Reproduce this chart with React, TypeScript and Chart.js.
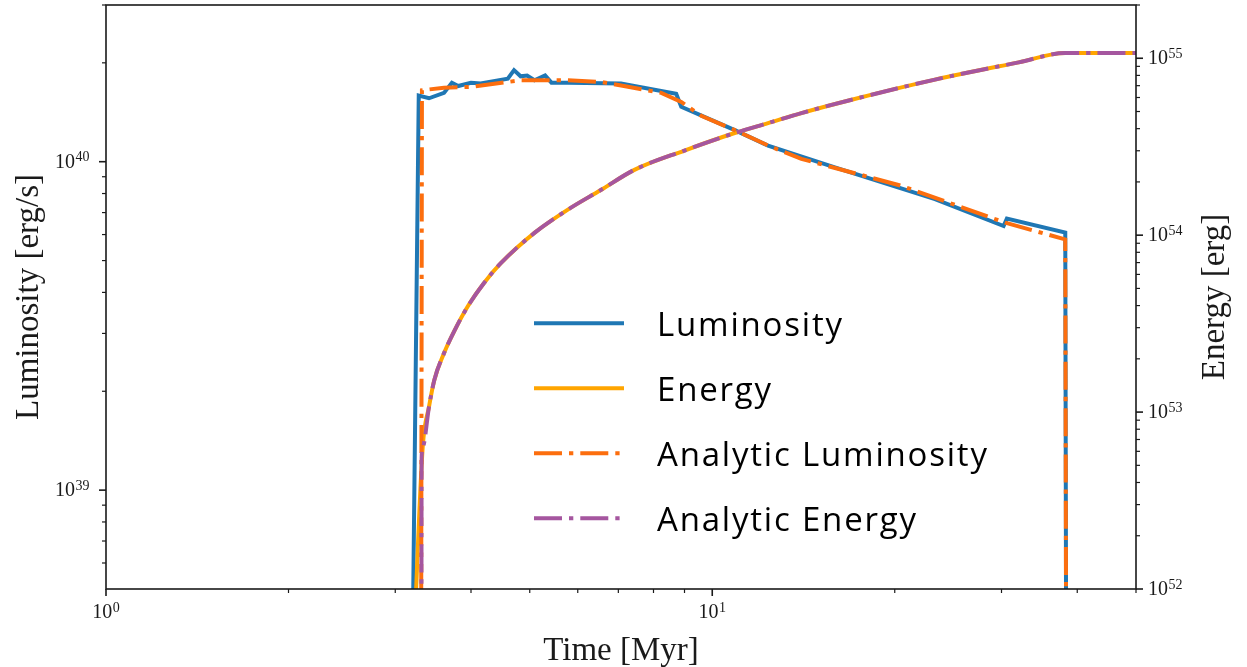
import { useEffect, useRef } from 'react';
import { Chart, registerables } from 'chart.js';

Chart.register(...registerables);

// Simulated luminosity [erg/s] against time [Myr]
const lumTime = [3.212, 3.28, 3.41, 3.61, 3.72, 3.81, 4.0, 4.15, 4.6, 4.71, 4.83, 4.95, 5.09, 5.3, 5.43, 5.78, 7.07, 8.72, 8.89, 10.87, 12.36, 15.93, 23.3, 30.24, 30.62, 38.22, 38.33];
const lumValue = [4.9e38, 1.59e40, 1.56e40, 1.62e40, 1.74e40, 1.7e40, 1.74e40, 1.73e40, 1.79e40, 1.9e40, 1.82e40, 1.83e40, 1.77e40, 1.83e40, 1.74e40, 1.74e40, 1.73e40, 1.61e40, 1.47e40, 1.25e40, 1.12e40, 9.61e39, 7.69e39, 6.37e39, 6.71e39, 6.08e39, 4.9e38];

// Simulated cumulative energy [erg]
const energyTime = [3.22, 3.33, 3.41, 3.48, 3.61, 3.75, 3.95, 4.2, 4.48, 5.09, 5.77, 6.55, 7.44, 9.0, 10.89, 12.36, 14.03, 16.98, 23.3, 32.02, 38.22, 50];
const energyValue = [5e51, 6.36e52, 1.07e53, 1.52e53, 2.15e53, 2.85e53, 3.95e53, 5.35e53, 6.94e53, 1.03e54, 1.39e54, 1.8e54, 2.34e54, 3.01e54, 3.78e54, 4.3e54, 4.9e54, 5.83e54, 7.57e54, 9.48e54, 1.07e55, 1.07e55];

// Analytic luminosity model
const analyticLumTime = [3.311, 3.32, 3.61, 4.0, 4.83, 5.78, 6.55, 7.15, 8.24, 8.89, 9.59, 10.87, 12.36, 14.03, 20.53, 30.42, 38.22, 38.33];
const analyticLumValue = [4.9e38, 1.65e40, 1.68e40, 1.69e40, 1.77e40, 1.77e40, 1.75e40, 1.7e40, 1.62e40, 1.52e40, 1.38e40, 1.25e40, 1.12e40, 1.02e40, 8.44e39, 6.52e39, 5.8e39, 4.9e38];

// Analytic cumulative energy model
const analyticEnergyTime = [3.311, 3.316, 3.33, 3.41, 3.48, 3.61, 3.75, 3.95, 4.2, 4.48, 5.09, 5.77, 6.55, 7.44, 9.0, 10.89, 12.36, 14.03, 16.98, 23.3, 32.02, 38.22, 50];
const analyticEnergyValue = [1e50, 5.5e52, 6.36e52, 1.07e53, 1.52e53, 2.15e53, 2.85e53, 3.95e53, 5.35e53, 6.94e53, 1.03e54, 1.39e54, 1.8e54, 2.34e54, 3.01e54, 3.78e54, 4.3e54, 4.9e54, 5.83e54, 7.57e54, 9.48e54, 1.07e55, 1.07e55];

const seriesLabels = ['Luminosity', 'Energy', 'Analytic Luminosity', 'Analytic Energy'];
const seriesColors = ['#1f77b4', '#ffa500', '#fc6e0e', '#a5569f'];

// Axis ticks (decades get a 10^n label, the rest are unlabelled minor ticks)
const xMajorTicks = [1, 10];
const xMinorTicks = [2, 3, 4, 5, 6, 7, 8, 9, 20, 30, 40, 50];
const lumMajorTicks = [1e39, 1e40];
const lumMinorTicks = [6e38, 7e38, 8e38, 9e38, 2e39, 3e39, 4e39, 5e39, 6e39, 7e39, 8e39, 9e39, 2e40, 3e40];
const energyMajorTicks = [1e52, 1e53, 1e54, 1e55];
const energyMinorTicks = [
  2e52, 3e52, 4e52, 5e52, 6e52, 7e52, 8e52, 9e52,
  2e53, 3e53, 4e53, 5e53, 6e53, 7e53, 8e53, 9e53,
  2e54, 3e54, 4e54, 5e54, 6e54, 7e54, 8e54, 9e54,
  2e55,
];

const xTitle = 'Time [Myr]';
const lumTitle = 'Luminosity [erg/s]';
const energyTitle = 'Energy [erg]';

const SERIF = '"Liberation Serif", "DejaVu Serif", serif';
const SANS = '"Open Sans", "DejaVu Sans", sans-serif';
const DASH_DOT = [28, 7, 4.3, 7];
const LINE_W = 4;
const INK = '#1a1a1a';

function toPoints(xs: number[], ys: number[]) {
  return xs.map((x, i) => ({ x, y: ys[i] }));
}

function drawPower(ctx: CanvasRenderingContext2D, exponent: number, x: number, baseline: number, align: 'left' | 'right' | 'center') {
  const base = '10';
  const sup = String(exponent);
  ctx.font = `20px ${SERIF}`;
  const wBase = ctx.measureText(base).width;
  ctx.font = `14px ${SERIF}`;
  const wSup = ctx.measureText(sup).width;
  const gap = 0.5;
  const total = wBase + gap + wSup;
  const left = align === 'left' ? x : align === 'right' ? x - total : x - total / 2;
  ctx.textAlign = 'left';
  ctx.textBaseline = 'alphabetic';
  ctx.font = `20px ${SERIF}`;
  ctx.fillText(base, left, baseline);
  ctx.font = `14px ${SERIF}`;
  ctx.fillText(sup, left + wBase + gap, baseline - 6.5);
}

const decorPlugin = {
  id: 'decor',
  afterDatasetsDraw(chart: any) {
    const { ctx, chartArea: a, scales } = chart;
    const sx = scales.x;
    const sl = scales.y;
    const se = scales.y1;
    ctx.save();
    ctx.fillStyle = INK;
    ctx.strokeStyle = INK;
    ctx.setLineDash([]);

    // frame
    ctx.lineWidth = 1.6;
    ctx.strokeRect(a.left, a.top, a.right - a.left, a.bottom - a.top);

    const line = (x1: number, y1: number, x2: number, y2: number, w: number) => {
      ctx.lineWidth = w;
      ctx.beginPath();
      ctx.moveTo(x1, y1);
      ctx.lineTo(x2, y2);
      ctx.stroke();
    };

    // x ticks
    xMajorTicks.forEach((v) => {
      const px = sx.getPixelForValue(v);
      line(px, a.bottom, px, a.bottom + 7, 1.6);
      drawPower(ctx, Math.round(Math.log10(v)), px, a.bottom + 29, 'center');
    });
    xMinorTicks.forEach((v) => {
      const px = sx.getPixelForValue(v);
      line(px, a.bottom, px, a.bottom + 4, 1.2);
    });

    // left ticks
    lumMajorTicks.forEach((v) => {
      const py = sl.getPixelForValue(v);
      line(a.left, py, a.left - 7, py, 1.6);
      drawPower(ctx, Math.round(Math.log10(v)), a.left - 16.5, py + 6, 'right');
    });
    lumMinorTicks.forEach((v) => {
      const py = sl.getPixelForValue(v);
      if (py < a.top - 0.5) return;
      line(a.left, py, a.left - 4, py, 1.2);
    });

    // right ticks
    energyMajorTicks.forEach((v) => {
      const py = se.getPixelForValue(v);
      line(a.right, py, a.right + 7, py, 1.6);
      drawPower(ctx, Math.round(Math.log10(v)), a.right + 12, py + 6, 'left');
    });
    energyMinorTicks.forEach((v) => {
      const py = se.getPixelForValue(v);
      if (py < a.top - 0.5) return;
      line(a.right, py, a.right + 4, py, 1.2);
    });

    // axis titles
    ctx.font = `33px ${SERIF}`;
    ctx.textAlign = 'center';
    ctx.textBaseline = 'alphabetic';
    const midX = (a.left + a.right) / 2;
    const midY = (a.top + a.bottom) / 2;
    ctx.fillText(xTitle, midX, 660);

    ctx.save();
    ctx.translate(37.5, midY);
    ctx.rotate(-Math.PI / 2);
    ctx.fillText(lumTitle, 0, 0);
    ctx.restore();

    ctx.save();
    ctx.translate(1223.5, midY);
    ctx.rotate(-Math.PI / 2);
    ctx.fillText(energyTitle, 0, 0);
    ctx.restore();

    // legend
    const ds = chart.data.datasets;
    ctx.textAlign = 'left';
    ctx.font = `33px ${SANS}`;
    (ctx as any).letterSpacing = '1.8px';
    ds.forEach((d: any, i: number) => {
      const y = 323.3 + i * 65;
      ctx.strokeStyle = d.borderColor;
      ctx.lineWidth = d.borderWidth;
      ctx.lineCap = 'butt';
      ctx.setLineDash(d.borderDash || []);
      ctx.beginPath();
      ctx.moveTo(534, y);
      ctx.lineTo(624, y);
      ctx.stroke();
      ctx.setLineDash([]);
      ctx.fillStyle = '#000';
      ctx.fillText(d.label, 657, y + 12.5);
    });
    (ctx as any).letterSpacing = '0px';

    ctx.restore();
  },
};

export default function App() {
  const canvasRef = useRef<HTMLCanvasElement | null>(null);

  useEffect(() => {
    const canvas = canvasRef.current;
    if (!canvas) return;
    const common = { pointRadius: 0, tension: 0, clip: 0, borderWidth: LINE_W, fill: false };
    const smooth = { cubicInterpolationMode: 'monotone' };
    const chart = new Chart(canvas, {
      type: 'line',
      data: {
        datasets: [
          { ...common, label: seriesLabels[0], data: toPoints(lumTime, lumValue), borderColor: seriesColors[0], yAxisID: 'y', order: 4 },
          { ...common, ...smooth, label: seriesLabels[1], data: toPoints(energyTime, energyValue), borderColor: seriesColors[1], yAxisID: 'y1', order: 3 },
          { ...common, label: seriesLabels[2], data: toPoints(analyticLumTime, analyticLumValue), borderColor: seriesColors[2], borderDash: DASH_DOT, yAxisID: 'y', order: 2 },
          { ...common, ...smooth, label: seriesLabels[3], data: toPoints(analyticEnergyTime, analyticEnergyValue), borderColor: seriesColors[3], borderDash: DASH_DOT, yAxisID: 'y1', order: 1 },
        ],
      },
      options: {
        animation: false,
        responsive: false,
        devicePixelRatio: 1,
        layout: { padding: { left: 106, right: 111, top: 5, bottom: 78 } },
        plugins: { legend: { display: false }, tooltip: { enabled: false } },
        scales: {
          x: { type: 'logarithmic', min: 1, max: 50, display: false },
          y: { type: 'logarithmic', position: 'left', min: 5e38, max: 3e40, display: false },
          y1: { type: 'logarithmic', position: 'right', min: 1e52, max: 2e55, display: false },
        },
      },
      plugins: [decorPlugin],
    } as any);
    return () => chart.destroy();
  }, []);

  return (
    <div style={{ position: 'fixed', left: 0, top: 0, width: 1247, height: 667, background: '#fff' }}>
      <canvas ref={canvasRef} width={1247} height={667} style={{ display: 'block' }} />
    </div>
  );
}
